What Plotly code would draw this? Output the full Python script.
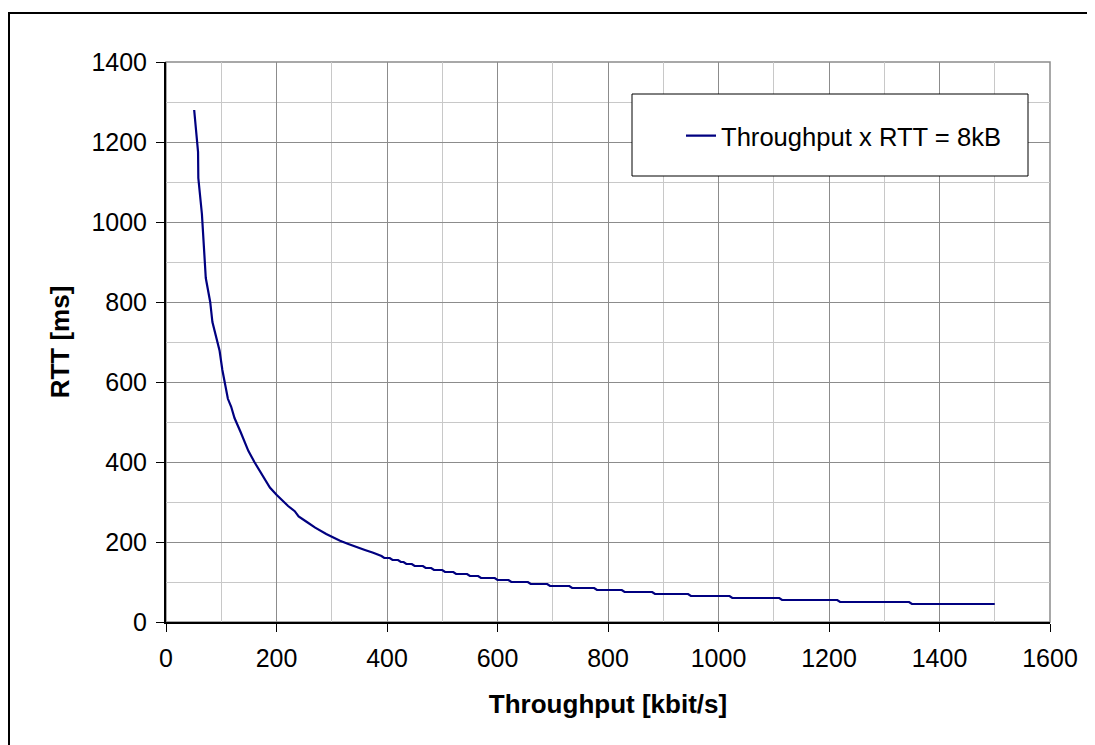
import plotly.graph_objects as go

# ---- data (throughput kbit/s, RTT ms) ----
# smooth upper part of the curve
upper_x = [51, 58, 58.5, 65, 72, 80, 84, 97, 102, 112, 118, 124, 135, 149, 160, 170,
           176, 188, 200, 210, 221, 233, 240, 255, 270, 290, 300, 315, 330, 345, 360, 375, 390]
upper_y = [1280, 1175, 1110, 1020, 860, 800, 750, 678, 630, 558, 538, 510, 475, 428, 400, 378,
           363, 336, 318, 305, 290, 277, 264, 250, 236, 220, 213, 203, 195, 187, 180, 173, 165]

# stepped tail: RTT level and the throughput range over which it is flat
tail_rtt   = [160, 155, 150, 145, 140, 135, 130, 125, 120, 115, 110, 105, 100, 95, 90, 85,
              80, 75, 70, 65, 60, 55, 50, 45]
tail_start = [395, 410, 425, 435, 450, 470, 485, 505, 525, 550, 570, 600, 625, 660, 695, 735,
              780, 830, 885, 950, 1025, 1115, 1220, 1350]
tail_end   = [405, 420, 430, 445, 465, 480, 500, 520, 545, 565, 595, 620, 655, 690, 730, 775,
              825, 880, 945, 1020, 1110, 1215, 1345, 1500]

x_vals = list(upper_x)
y_vals = list(upper_y)
for r, s, e in zip(tail_rtt, tail_start, tail_end):
    x_vals += [s, e]
    y_vals += [r, r]

FONT = "Arial, Liberation Sans, sans-serif"

fig = go.Figure()
fig.add_trace(go.Scatter(
    x=x_vals, y=y_vals, mode="lines",
    name="Throughput x RTT = 8kB",
    line=dict(color="#000080", width=2.2),
))

# the page body has an 8px margin, so the figure is 8px smaller than the window
W, H = 1087, 737
L, R, T, B = 158, 45, 54, 123
pw, ph = W - L - R, H - T - B

def px(xp):  # reference-window pixel -> paper x
    return (xp - 8 - L) / pw

def py(yp):  # reference-window pixel -> paper y
    return (H - B - (yp - 8)) / ph

axis_common = dict(
    showline=True, linecolor="black", linewidth=2,
    ticks="outside", ticklen=8, tickwidth=1.3, tickcolor="black",
    showgrid=True, gridcolor="#8c8c8c", gridwidth=1,
    zeroline=False,
    tickfont=dict(family=FONT, size=25, color="black"),
    minor=dict(dtick=100, showgrid=True, gridcolor="#c8c8c8", gridwidth=1, ticks=""),
)

fig.update_xaxes(range=[0, 1600], dtick=200, tick0=0, ticklabelstandoff=5,
                 title=dict(text="<b>Throughput [kbit/s]</b>", standoff=24,
                            font=dict(family=FONT, size=26, color="black")),
                 **axis_common)
fig.update_yaxes(range=[0, 1400], dtick=200, tick0=0, ticklabelstandoff=4,
                 title=dict(text="<b>RTT [ms]</b>", standoff=14,
                            font=dict(family=FONT, size=26, color="black")),
                 **axis_common)

shapes = [
    # plot area top/right border (gray)
    dict(type="rect", xref="paper", yref="paper", x0=0, x1=1, y0=0, y1=1,
         line=dict(color="#8c8c8c", width=1.5), layer="below"),
    # legend box
    dict(type="rect", xref="paper", yref="paper",
         x0=px(632), x1=px(1028), y0=py(176), y1=py(94),
         line=dict(color="black", width=1), fillcolor="white", layer="above"),
    # outer chart frame
    dict(type="rect", xref="paper", yref="paper",
         x0=px(9), x1=px(1093), y0=py(770), y1=py(13),
         line=dict(color="black", width=2)),
]

fig.update_layout(
    width=W, height=H,
    margin=dict(l=L, r=R, t=T, b=B, autoexpand=False),
    paper_bgcolor="white", plot_bgcolor="white",
    font=dict(family=FONT, color="black"),
    shapes=shapes,
    showlegend=True,
    legend=dict(x=px(681), y=py(136), xanchor="left", yanchor="middle",
                bgcolor="rgba(0,0,0,0)", borderwidth=0,
                font=dict(family=FONT, size=25.6, color="black")),
)

fig.write_html("out.html")
